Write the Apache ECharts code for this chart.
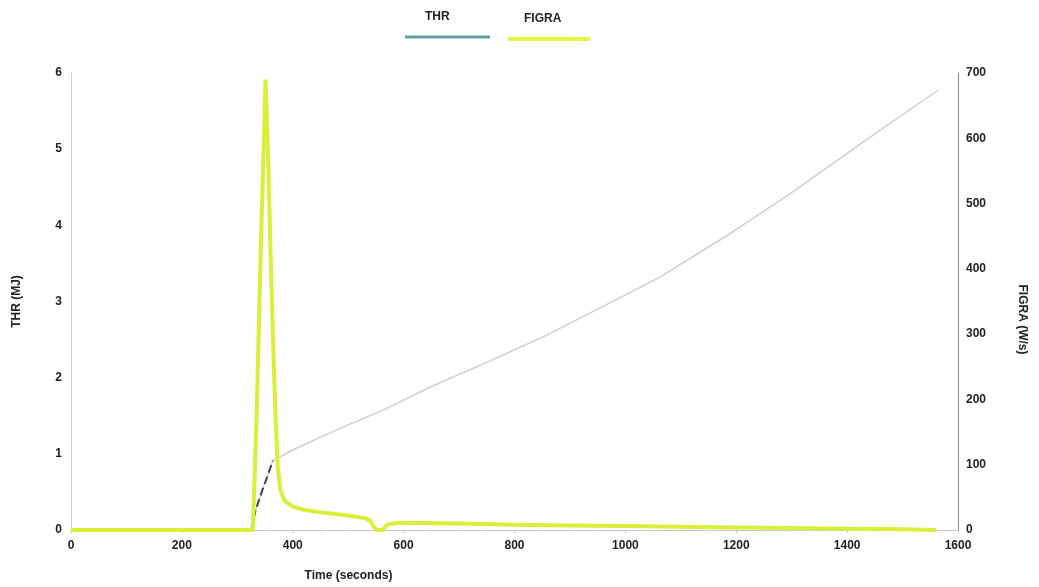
<!DOCTYPE html>
<html>
<head>
<meta charset="utf-8">
<script src="https://cdn.jsdelivr.net/npm/echarts@6/dist/echarts.min.js"></script>
<style>
html,body{margin:0;padding:0;background:#fff;}
#chart{width:1039px;height:587px;}
</style>
</head>
<body>
<div id="chart"></div>
<script>
// Time (s) and THR (MJ)
const thrRise = [[325,0],[333,0.26],[345,0.52],[355,0.72],[364,0.91]];
const thrTime = [0,100,200,300,325,333,345,355,364,400,450,500,562,652,750,850,950,1060,1180,1300,1430,1565];
const thrValues = [0,0,0,0,0,0.26,0.52,0.72,0.91,1.05,1.22,1.38,1.57,1.89,2.2,2.53,2.9,3.31,3.85,4.43,5.1,5.78];
// Time (s) and FIGRA (W/s)
const figraTime = [0,100,200,300,328,335,342,351,356,360,366,369,373,378,385,400,420,450,480,510,531,540,546,552,562,570,580,600,700,800,900,1000,1100,1200,1300,1400,1500,1560];
const figraValues = [0,0,0,0,0,180,420,690,560,422,250,170,95,60,45,36,31,27,24,21,18,14,5,0,0,8,10,11,10,8,7,6,5,4,3,2,1,0];
const xTicks = [0,200,400,600,800,1000,1200,1400,1600];
const leftTicks = [0,1,2,3,4,5,6];
const rightTicks = [0,100,200,300,400,500,600,700];

const thrData = thrTime.map((t,i)=>[t,thrValues[i]]);
const figraData = figraTime.map((t,i)=>[t,figraValues[i]]);

const chart = echarts.init(document.getElementById('chart'));
const font = 'Liberation Sans, Arial, sans-serif';
const lbl = {color:'#222', fontWeight:'bold', fontSize:12, fontFamily:font};
chart.setOption({
  animation:false,
  backgroundColor:'#fff',
  legend:[
    {data:[{name:'THR', lineStyle:{color:'#5fa39c', width:4}, itemStyle:{color:'#5fa39c'}}],
     left:400, top:-8, icon:'rect', itemWidth:85, itemHeight:3, itemGap:0,
     formatter:function(n){return n+'\n ';},
     textStyle:{color:'#222', fontSize:12, fontFamily:font, fontWeight:'bold', lineHeight:40, padding:[0,0,0,-70]}},
    {data:[{name:'FIGRA', lineStyle:{color:'#e2f44a', width:4}, itemStyle:{color:'#e2f44a'}}],
     left:503, top:-6, icon:'rect', itemWidth:82, itemHeight:4, itemGap:0,
     formatter:function(n){return n+'\n ';},
     textStyle:{color:'#222', fontSize:12, fontFamily:font, fontWeight:'bold', lineHeight:40, padding:[0,0,0,-71]}}
  ],
  grid:{left:71, right:81, top:73, bottom:57},
  xAxis:{
    type:'value', min:0, max:1600, interval:200,
    name:'Time (seconds)', nameLocation:'middle', nameGap:40,
    nameTextStyle:{color:'#222', fontWeight:'bold', fontSize:12, fontFamily:font, padding:[0,332,0,0]},
    axisLine:{lineStyle:{color:'#c8c8c8'}},
    axisTick:{show:true, length:3, lineStyle:{color:'#c8c8c8'}},
    minorTick:{show:true, splitNumber:4, length:2, lineStyle:{color:'#d8d8d8'}},
    axisLabel:Object.assign({margin:10, formatter:function(v){return String(v);}}, lbl),
    splitLine:{show:false}
  },
  yAxis:[
    {type:'value', min:0, max:6, interval:1, position:'left',
     name:'THR (MJ)', nameLocation:'middle', nameGap:48,
     nameTextStyle:{color:'#222', fontWeight:'bold', fontSize:12, fontFamily:font},
     axisLine:{show:true, lineStyle:{color:'#d0d0d0'}},
     axisTick:{show:false},
     axisLabel:Object.assign({margin:9}, lbl),
     splitLine:{show:false}},
    {type:'value', min:0, max:700, interval:100, position:'right',
     name:'FIGRA (W/s)', nameLocation:'middle', nameGap:58, nameRotate:-90,
     nameTextStyle:{color:'#222', fontWeight:'bold', fontSize:12, fontFamily:font, padding:[0,0,0,36]},
     axisLine:{show:true, lineStyle:{color:'#8a8a8a'}},
     axisTick:{show:false},
     axisLabel:Object.assign({margin:8}, lbl),
     splitLine:{show:false}}
  ],
  series:[
    {name:'THR', type:'line', yAxisIndex:0, data:thrData, showSymbol:false,
     lineStyle:{color:'#cfcfcf', width:1.5}, itemStyle:{color:'#5fa39c'}, z:2},
    {name:'THR', type:'line', yAxisIndex:0, data:thrRise, showSymbol:false,
     lineStyle:{color:'#444', width:2, type:'dashed'}, itemStyle:{color:'#5fa39c'}, z:3},
    {name:'FIGRA', type:'line', yAxisIndex:1, data:figraData, showSymbol:false,
     lineStyle:{color:'#d9ef3a', width:4}, itemStyle:{color:'#e2f44a'}, z:4}
  ]
});
</script>
</body>
</html>
